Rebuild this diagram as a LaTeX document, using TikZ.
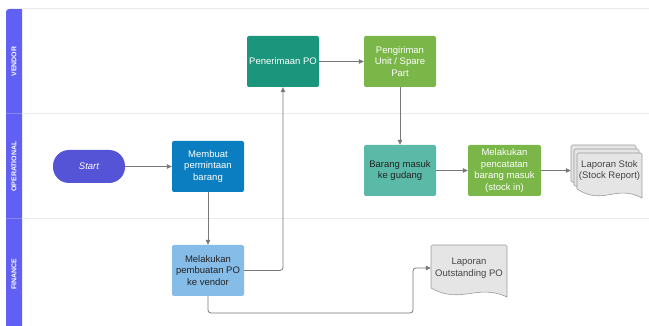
\documentclass[tikz,border=0pt]{standalone}
\usepackage{fontspec}
\setmainfont{Liberation Sans}
\usetikzlibrary{arrows.meta}

\definecolor{lanehead}{RGB}{96,96,245}
\definecolor{laneline}{RGB}{234,234,234}
\definecolor{startcol}{RGB}{85,83,214}
\definecolor{bluebox}{RGB}{11,126,193}
\definecolor{lightblue}{RGB}{134,188,232}
\definecolor{tealbox}{RGB}{27,150,124}
\definecolor{greenbox}{RGB}{122,182,72}
\definecolor{mintbox}{RGB}{91,186,167}
\definecolor{docfill}{RGB}{229,229,229}
\definecolor{docline}{RGB}{155,155,155}
\definecolor{flowline}{RGB}{120,120,120}
\definecolor{darktext}{RGB}{35,35,35}
\definecolor{doctext}{RGB}{70,70,70}

% document page: left, top, right, bottom
\newcommand{\wavedoc}[4]{%
  \draw[docpage] (#1,#4-9) [rounded corners=1.5pt] -- (#1,#2) -- (#3,#2) [sharp corners] -- (#3,#4)
    .. controls ({#3-0.4*(#3-#1)},{#4-14}) and ({#1+0.4*(#3-#1)},{#4+8}) .. (#1,{#4-9}) -- cycle;
}

\begin{document}
\begin{tikzpicture}
        [x=1pt,y=-1pt,
         procbox/.style={rectangle,rounded corners=2pt,minimum width=72pt,minimum height=51pt,
           inner sep=2pt,align=center,text=white,font=\fontsize{9.5}{11.5}\selectfont},
         startnode/.style={rectangle,rounded corners=16pt,fill=startcol,minimum width=72pt,
           minimum height=33pt,text=white,font=\fontsize{9.5}{11.5}\selectfont\itshape},
         doclabel/.style={align=center,text=doctext,minimum height=40pt,inner sep=0pt,
           font=\fontsize{9.5}{11.5}\selectfont},
         lanename/.style={rotate=90,text=white,font=\fontsize{7}{8}\selectfont\bfseries},
         docpage/.style={fill=docfill,draw=docline,line width=0.6pt},
         flow/.style={draw=flowline,line width=0.8pt,-{Triangle[length=5pt,width=4.5pt]}}]

        \useasboundingbox (0,0) rectangle (649,326);

        % swimlanes
        \fill[lanehead] (22,9) [rounded corners=3pt] -- (6,9) [sharp corners] -- (6,326) -- (22,326) -- cycle;
        \foreach \y in {9,114,219} {
          \draw[laneline,line width=1pt] (22,\y) -- (649,\y);
        }
        \foreach \y in {114,219} {
          \draw[white,opacity=0.25,line width=1pt] (6,\y) -- (22,\y);
        }
        \node[lanename] (vendor) at (14,61.5) {VENDOR};
        \node[lanename] (oper) at (14,166.5) {OPERATIONAL};
        \node[lanename] (fin) at (14,274) {FINANCE};

        % documents
        \wavedoc{571}{145}{636}{190}
        \wavedoc{574}{149}{639}{194}
        \wavedoc{577}{153}{642}{198}
        \wavedoc{431}{245}{507}{297}

        \node[startnode] (start) at (89,166.5) {Start};
        \node[procbox,fill=bluebox] (membuat) at (208,166.5) {Membuat\\permintaan\\barang};
        \node[procbox,fill=lightblue,text=darktext] (buatpo) at (208,270.5) {Melakukan\\pembuatan PO\\ke vendor};
        \node[procbox,fill=tealbox] (terimapo) at (283,61.5) {Penerimaan PO};
        \node[procbox,fill=greenbox] (kirim) at (400,61.5) {Pengiriman\\Unit / Spare\\Part};
        \node[procbox,fill=mintbox,text=darktext] (masuk) at (400,170.5) {Barang masuk\\ke gudang};
        \node[procbox,fill=greenbox,minimum width=73pt] (catat) at (504.5,170.5) {Melakukan\\pencatatan\\barang masuk\\(stock in)};
        \node[doclabel,minimum width=77pt] (stok) at (609.5,170.5) {Laporan Stok\\(Stock Report)};
        \node[doclabel,minimum width=76pt] (outpo) at (469,268) {Laporan\\Outstanding PO};
        \coordinate (turn) at (413,313);

        \draw[flow] (start) -- (membuat);
        \draw[flow] (membuat) -- (buatpo);
        \draw[flow,rounded corners=3pt] (buatpo) -| (terimapo);
        \draw[flow] (terimapo) -- (kirim);
        \draw[flow] (kirim) -- (masuk);
        \draw[flow] (masuk) -- (catat);
        \draw[flow] (catat) -- (stok);
        \draw[flow,rounded corners=3pt] (buatpo) |- (turn) |- (outpo);

      \end{tikzpicture}
\end{document}
